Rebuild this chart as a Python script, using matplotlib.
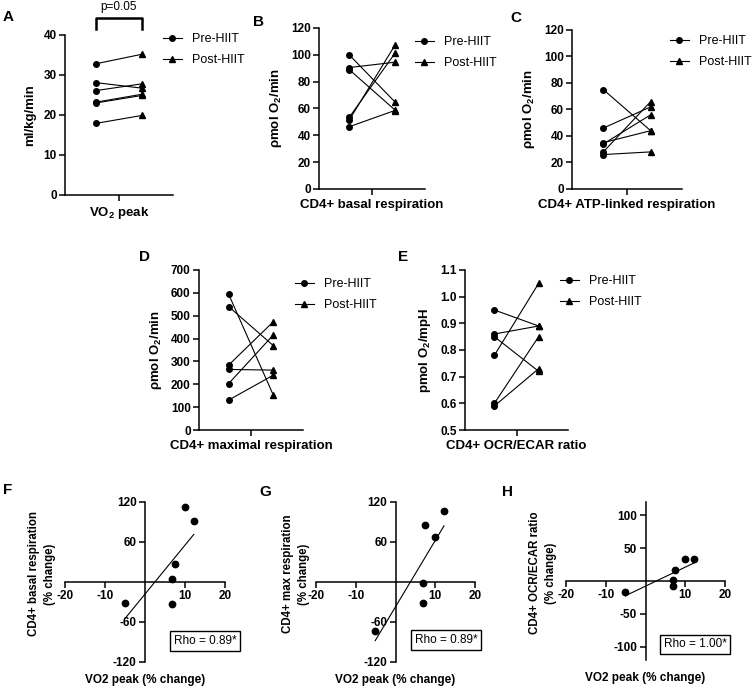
import numpy as np
import matplotlib.pyplot as plt
from matplotlib.lines import Line2D

plt.rcParams['font.family'] = ['Liberation Sans', 'DejaVu Sans']
plt.rcParams['font.weight'] = 'bold'
plt.rcParams['axes.labelweight'] = 'bold'
plt.rcParams['mathtext.default'] = 'regular'
plt.rcParams['axes.unicode_minus'] = False
plt.rcParams['axes.linewidth'] = 1.1

# before / after HIIT, one value per subject
vo2_pre = [32.8, 28.1, 26.1, 23.2, 23.0, 17.9]
vo2_post = [35.2, 26.7, 27.8, 25.2, 24.9, 19.9]

basal_pre = [100, 90.5, 89, 53.4, 51.4, 46.4]
basal_post = [65, 94.5, 59, 101, 107, 58.5]

atp_pre = [75, 46, 35, 34, 28, 26]
atp_post = [44, 62, 44, 56, 66, 28]

maxr_pre = [594, 540, 284, 265, 203, 131]
maxr_post = [152, 369, 474, 262, 416, 240]

ratio_pre = [0.95, 0.86, 0.85, 0.78, 0.60, 0.59]
ratio_post = [0.89, 0.89, 0.72, 1.05, 0.85, 0.73]

# % change vs VO2 peak % change
vo2_change = [12.2, 9.9, 7.5, 6.8, 6.8, -5.1]
basal_change = [91, 113, 27, 5, -33, -32]
maxr_change = [107, 68, 86, -1, -31, -73]
ratio_change = [34, 34, 16, 2, -7, -16]

rho_text = ['Rho = 0.89*', 'Rho = 0.89*', 'Rho = 1.00*']

W, H = 752, 689
fig = plt.figure(figsize=(W / 100, H / 100), dpi=100)


def px_axes(left, top, right, bottom):
    return fig.add_axes([left / W, 1 - bottom / H, (right - left) / W, (bottom - top) / H])


def letter(x, y, s):
    fig.text(x / W, 1 - y / H, s, fontsize=11, fontweight='bold', ha='center', va='center')


PRE, POST = -0.43, 0.43


def before_after(ax, pre, post, yticks, ylabel, xlabel, leg_xy, ticklabels=None):
    for a, b in zip(pre, post):
        ax.plot([PRE, POST], [a, b], color='black', lw=0.8, clip_on=False)
    ax.plot([PRE] * len(pre), pre, 'o', ms=4, color='black', clip_on=False)
    ax.plot([POST] * len(post), post, '^', ms=4, color='black', clip_on=False)
    ax.set_xlim(-1, 1)
    ax.set_ylim(yticks[0], yticks[-1])
    if ticklabels is None:
        ticklabels = [str(v) for v in yticks]
    ax.set_yticks(yticks, ticklabels, fontweight='bold', fontsize=8.5)
    ax.set_xticks([0], [xlabel], fontweight='bold', fontsize=9.5)
    ax.spines[['top', 'right']].set_visible(False)
    ax.tick_params(length=4, width=1.1, pad=2)
    ax.tick_params(axis='x', pad=3)
    ax.set_ylabel(ylabel, fontsize=9.5, fontweight='bold', labelpad=5)
    handles = [Line2D([], [], color='black', lw=0.8, marker='o', ms=4),
               Line2D([], [], color='black', lw=0.8, marker='^', ms=4)]
    ax.legend(handles, ['Pre-HIIT', 'Post-HIIT'], loc='upper left',
              bbox_to_anchor=(leg_xy[0] / W, 1 - leg_xy[1] / H), bbox_transform=fig.transFigure,
              frameon=False, prop={'size': 9, 'weight': 'normal'}, handlelength=1.5,
              handletextpad=0.8, labelspacing=0.75, borderpad=0, borderaxespad=0)


def corr_panel(ax, x, y, yticks, ylabel, rho, box_xy, ylab_x):
    ax.scatter(x, y, s=21, color='black', zorder=3, clip_on=False)
    k, c = np.polyfit(x, y, 1)
    xx = np.array([min(x), max(x)])
    ax.plot(xx, k * xx + c, color='black', lw=0.8)
    ax.set_xlim(-20, 20)
    ax.set_ylim(-120, 120)
    ax.spines[['left', 'bottom']].set_position('zero')
    ax.spines[['top', 'right']].set_visible(False)
    xt = [-20, -10, 10, 20]
    ax.set_xticks(xt, [str(v) for v in xt], fontweight='bold', fontsize=8.5)
    ax.set_yticks(yticks, [str(v) for v in yticks], fontweight='bold', fontsize=8.5)
    ax.tick_params(length=4, width=1.1, pad=2)
    ax.set_xlabel('VO2 peak (% change)', fontsize=8.5, fontweight='bold')
    ax.xaxis.set_label_coords(0.5, -0.075)
    ax.set_ylabel(ylabel, fontsize=8.3, fontweight='bold', linespacing=1.4)
    ax.yaxis.set_label_coords(ylab_x, 0.55)
    ax.text(box_xy[0], box_xy[1], rho, transform=ax.transAxes, fontsize=8.5,
            fontweight='normal', ha='center', va='center',
            bbox=dict(boxstyle='square,pad=0.3', fc='white', ec='black', lw=1))


axA = px_axes(65, 35, 173, 195)
before_after(axA, vo2_pre, vo2_post, [0, 10, 20, 30, 40], 'ml/kg/min', 'VO$_2$ peak', (163, 33))
axA.plot([PRE, PRE, POST, POST], [41.5, 44.3, 44.3, 41.5], color='black', lw=1.8, clip_on=False)
axA.text(0, 46.9, 'p=0.05', fontsize=8.5, fontweight='normal', ha='center', va='center')

axB = px_axes(319, 28, 425, 189)
before_after(axB, basal_pre, basal_post, [0, 20, 40, 60, 80, 100, 120], 'ρmol O$_2$/min',
             'CD4+ basal respiration', (415, 36))

axC = px_axes(572, 30, 682, 189)
before_after(axC, atp_pre, atp_post, [0, 20, 40, 60, 80, 100, 120], 'ρmol O$_2$/min',
             'CD4+ ATP-linked respiration', (670, 35))

axD = px_axes(199, 270, 303, 430)
before_after(axD, maxr_pre, maxr_post, [0, 100, 200, 300, 400, 500, 600, 700], 'ρmol O$_2$/min',
             'CD4+ maximal respiration', (295, 278))

axE = px_axes(465, 270, 568, 430)
before_after(axE, ratio_pre, ratio_post, [0.5, 0.6, 0.7, 0.8, 0.9, 1.0, 1.1], 'pmol O$_2$/mpH',
             'CD4+ OCR/ECAR ratio', (560, 275),
             ticklabels=['0.5', '0.6', '0.7', '0.8', '0.9', '1.0', '1.1'])

axF = px_axes(65, 502, 225, 662)
corr_panel(axF, vo2_change, basal_change, [-120, -60, 60, 120],
           'CD4+ basal respiration\n(% change)', rho_text[0], (0.875, 0.131), -0.056)

axG = px_axes(316, 502, 475, 662)
corr_panel(axG, vo2_change, maxr_change, [-120, -60, 60, 120],
           'CD4+ max respiration\n(% change)', rho_text[1], (0.818, 0.1375), -0.04)

axH = px_axes(566, 502, 725, 660)
corr_panel(axH, vo2_change, ratio_change, [-100, -50, 50, 100],
           'CD4+ OCR/ECAR ratio\n(% change)', rho_text[2], (0.811, 0.10), -0.057)

for s, x, y in [('A', 8, 17), ('B', 258, 22), ('C', 516, 18), ('D', 145, 257), ('E', 403, 257),
                ('F', 8, 490), ('G', 265, 492), ('H', 508, 492)]:
    letter(x, y, s)

fig.savefig('out.png', dpi=100)
